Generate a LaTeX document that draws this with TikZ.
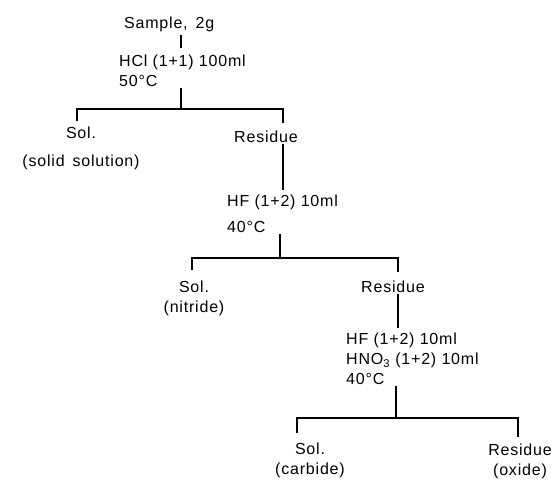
\documentclass[tikz,border=0pt]{standalone}
\usepackage{fontspec}
\setmainfont{Liberation Sans}[LetterSpace=5]
\usepackage{tikz}
\usetikzlibrary{positioning}
\tikzset{
  txt/.style={font=\fontsize{16}{20}\selectfont, inner sep=1pt, align=center},
  reagent/.style={txt, align=left, anchor=west},
  tline/.style={line width=1.4pt}
}

\begin{document}
\begin{tikzpicture}[x=1pt, y=-1pt]
    \useasboundingbox (0,0) rectangle (558,488);
    % first dissolution
    \node[txt, anchor=west] (sample) at (123,24) {Sample,\enspace 2g};
    \node[reagent] (reagA) at (118,71) {HCl (1+1) 100ml\\50°C};
    \node[txt] (solA) at (81,148) {Sol.\\[8pt](solid\enspace solution)};
    \node[txt] (resA) at (266,137) {Residue};
    \coordinate (brA) at (181,109);
    \coordinate (dAl) at (77,121);
    \coordinate (dAr) at (283,123);
    \draw[tline, shorten <=2pt, shorten >=6pt] (sample.south -| brA) -- (reagA.north -| brA);
    \draw[tline] (reagA.south -| brA) -- (brA);
    \draw[tline] (dAl) |- (brA) -| (dAr);
    % second dissolution
    \node[reagent] (reagB) at (226,214) {HF (1+2) 10ml\\[6pt]40°C};
    \node[txt] (solB) at (194,298) {Sol.\\(nitride)};
    \node[txt] (resB) at (393,287) {Residue};
    \coordinate (brB) at (280,258);
    \coordinate (dBl) at (192,270);
    \coordinate (dBr) at (398,272);
    \draw[tline, shorten >=4pt] (resA.south -| dAr) -- (reagB.north -| dAr);
    \draw[tline] (reagB.south -| brB) -- (brB);
    \draw[tline] (dBl) |- (brB) -| (dBr);
    % third dissolution
    \node[reagent] (reagC) at (345,359) {HF (1+2) 10ml\\HNO\textsubscript{3} (1+2) 10ml\\40°C};
    \node[txt] (solC) at (310,460) {Sol.\\(carbide)};
    \node[txt] (resC) at (520,461) {Residue\\(oxide)};
    \coordinate (brC) at (396,418);
    \coordinate (dCl) at (297,433);
    \coordinate (dCr) at (518,437);
    \draw[tline, shorten >=4pt] (resB.south -| dBr) -- (reagC.north -| dBr);
    \draw[tline] (reagC.south -| brC) -- (brC);
    \draw[tline] (dCl) |- (brC) -| (dCr);
  \end{tikzpicture}
\end{document}
